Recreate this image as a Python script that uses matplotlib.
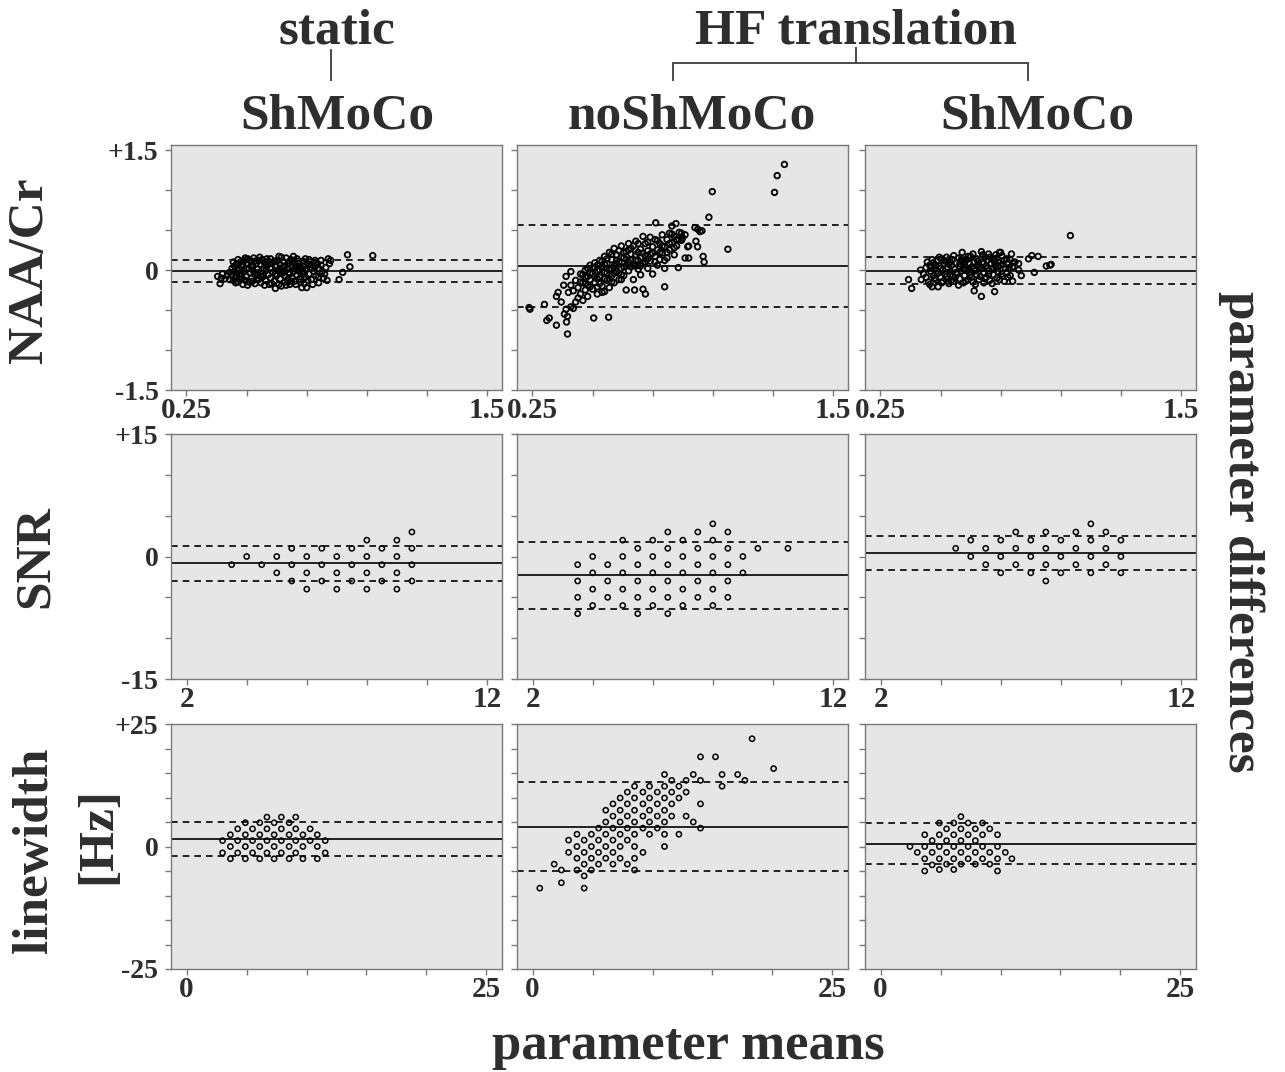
import numpy as np
import matplotlib
matplotlib.use("Agg")
import matplotlib.pyplot as plt
from matplotlib.lines import Line2D

# ---------------- data ----------------
# NAA/Cr  (x = mean, y = difference)
naa_static_pts = [
    (0.38, -0.08), (0.39, -0.17), (0.40, -0.05), (0.395, -0.10), (0.41, -0.11), (0.42, -0.07),
    (0.43, -0.03), (0.43, -0.12), (0.44, 0.02), (0.44, -0.06), (0.445, -0.13), (0.45, 0.05),
    (0.45, -0.02), (0.455, -0.09), (0.46, 0.08), (0.46, -0.04), (0.465, -0.15), (0.47, 0.01),
    (0.47, -0.11), (0.475, 0.10), (0.48, -0.06), (0.48, 0.04), (0.485, -0.18), (0.49, 0.12),
    (0.49, -0.01), (0.495, -0.13), (0.50, 0.07), (0.50, -0.08), (0.505, 0.14), (0.51, 0.02),
    (0.51, -0.15), (0.515, -0.04), (0.52, 0.10), (0.52, -0.10), (0.525, 0.05), (0.53, -0.02),
    (0.53, 0.15), (0.535, -0.17), (0.54, 0.08), (0.54, -0.07), (0.545, 0.01), (0.55, 0.12),
    (0.55, -0.12), (0.555, -0.03), (0.56, 0.06), (0.56, -0.16), (0.565, 0.13), (0.57, -0.08),
    (0.57, 0.02), (0.575, 0.09), (0.58, -0.13), (0.58, -0.01), (0.585, 0.05), (0.59, 0.11),
    (0.59, -0.06), (0.595, -0.18), (0.60, 0.03), (0.60, -0.10), (0.605, 0.08), (0.61, -0.03),
    (0.615, -0.14), (0.62, 0.05), (0.62, -0.23), (0.625, -0.07), (0.63, 0.12), (0.63, 0.00),
    (0.635, -0.18), (0.64, 0.07), (0.64, -0.11), (0.645, 0.16), (0.65, -0.04), (0.65, 0.03),
    (0.655, 0.10), (0.66, -0.15), (0.66, -0.08), (0.665, 0.15), (0.67, 0.01), (0.67, -0.12),
    (0.675, 0.08), (0.68, -0.18), (0.68, -0.05), (0.685, 0.13), (0.69, 0.04), (0.69, -0.10),
    (0.695, -0.01), (0.70, 0.10), (0.70, -0.14), (0.705, 0.06), (0.71, -0.07), (0.71, 0.14),
    (0.715, 0.00), (0.72, -0.11), (0.72, 0.08), (0.725, 0.03), (0.73, -0.04), (0.73, -0.22),
    (0.735, 0.11), (0.74, -0.17), (0.74, 0.05), (0.745, -0.09), (0.75, 0.01), (0.75, -0.22),
    (0.755, 0.07), (0.76, -0.05), (0.765, 0.03), (0.77, -0.12), (0.775, 0.06), (0.78, -0.02),
    (0.785, 0.04), (0.79, -0.07), (0.80, -0.16), (0.80, 0.02), (0.81, 0.06), (0.815, -0.02),
    (0.82, -0.10), (0.83, 0.03), (0.84, 0.14), (0.845, 0.08), (0.85, 0.12), (0.885, -0.12),
    (0.90, -0.03), (0.92, 0.19), (0.93, 0.04), (1.025, 0.18),
    (0.445, 0.10), (0.455, -0.16), (0.465, 0.13), (0.475, -0.08), (0.485, 0.07), (0.495, 0.15),
    (0.505, -0.19), (0.515, 0.12), (0.525, -0.14), (0.535, 0.11), (0.545, -0.10), (0.555, 0.16),
    (0.565, -0.05), (0.575, -0.19), (0.585, 0.14), (0.595, 0.08), (0.605, -0.17), (0.615, 0.11),
    (0.625, 0.04), (0.635, 0.17), (0.645, -0.20), (0.655, -0.01), (0.665, -0.19), (0.675, -0.03),
    (0.685, -0.14), (0.695, 0.17), (0.705, -0.18), (0.715, 0.11), (0.725, -0.15), (0.735, -0.02),
    (0.745, 0.14), (0.755, -0.13), (0.765, 0.10), (0.775, -0.18), (0.785, 0.12), (0.795, 0.08),
    (0.46, 0.00), (0.50, 0.01), (0.54, -0.04), (0.58, 0.07), (0.62, -0.05), (0.66, 0.05),
    (0.70, 0.02), (0.74, -0.05), (0.78, 0.09), (0.48, -0.11), (0.52, 0.06), (0.56, -0.08),
    (0.60, 0.14), (0.64, -0.02), (0.68, 0.11), (0.72, -0.02), (0.76, 0.13), (0.80, -0.09),
    (0.81, 0.12), (0.825, -0.05), (0.835, -0.13),
]
naa_hf_noshmoco_pts = [
    (0.236, -0.47), (0.24, -0.49), (0.30, -0.43), (0.31, -0.63), (0.32, -0.60), (0.35, -0.69),
    (0.35, -0.33), (0.357, -0.28), (0.37, -0.40), (0.383, -0.55), (0.39, -0.49), (0.392, -0.65),
    (0.396, -0.58), (0.396, -0.80), (0.38, -0.19), (0.39, -0.08), (0.41, -0.02), (0.41, -0.46),
    (0.42, -0.48), (0.43, -0.40), (0.44, -0.35), (0.40, -0.28), (0.41, -0.19), (0.42, -0.26),
    (0.43, -0.13), (0.44, -0.22), (0.45, -0.05), (0.45, -0.30), (0.46, -0.16), (0.46, -0.38),
    (0.47, -0.09), (0.47, -0.25), (0.48, 0.02), (0.48, -0.19), (0.48, -0.33), (0.49, -0.12),
    (0.49, 0.06), (0.50, -0.05), (0.50, -0.24), (0.505, -0.60), (0.51, 0.09), (0.51, -0.16),
    (0.52, -0.01), (0.52, -0.30), (0.53, 0.12), (0.53, -0.09), (0.54, 0.04), (0.54, -0.20),
    (0.55, 0.17), (0.55, -0.03), (0.55, -0.27), (0.56, 0.08), (0.56, -0.13), (0.567, -0.59),
    (0.57, 0.22), (0.57, 0.00), (0.57, -0.22), (0.58, 0.13), (0.58, -0.07), (0.59, 0.27),
    (0.59, 0.05), (0.59, -0.16), (0.60, 0.19), (0.60, -0.02), (0.61, 0.10), (0.61, -0.12),
    (0.62, 0.30), (0.62, 0.02), (0.63, 0.15), (0.63, -0.07), (0.64, 0.23), (0.64, 0.05),
    (0.64, -0.25), (0.65, 0.33), (0.65, -0.01), (0.66, 0.12), (0.66, 0.27), (0.67, 0.06),
    (0.67, -0.12), (0.675, -0.25), (0.68, 0.19), (0.68, 0.36), (0.69, 0.01), (0.69, 0.12),
    (0.70, 0.26), (0.70, -0.06), (0.71, 0.42), (0.71, 0.08), (0.71, -0.24), (0.72, 0.18),
    (0.72, -0.30), (0.72, 0.33), (0.73, 0.02), (0.73, 0.24), (0.74, 0.41), (0.74, 0.11),
    (0.75, 0.29), (0.75, -0.05), (0.76, 0.17), (0.76, 0.38), (0.763, 0.59), (0.77, 0.06),
    (0.77, 0.25), (0.78, 0.33), (0.78, 0.13), (0.79, 0.44), (0.79, 0.21), (0.80, 0.02),
    (0.80, -0.21), (0.80, 0.29), (0.81, 0.38), (0.81, 0.15), (0.82, 0.46), (0.82, 0.25),
    (0.83, 0.55), (0.83, 0.34), (0.84, 0.19), (0.84, 0.42), (0.847, 0.58), (0.85, 0.30),
    (0.857, 0.03), (0.86, 0.47), (0.87, 0.37), (0.875, 0.40), (0.885, 0.44), (0.885, 0.15),
    (0.896, 0.29), (0.90, 0.15), (0.90, 0.30), (0.926, 0.53), (0.93, 0.36), (0.937, 0.29),
    (0.938, 0.51), (0.947, 0.48), (0.96, 0.17), (0.964, 0.10), (0.955, 0.49), (0.984, 0.66),
    (0.998, 0.98), (1.063, 0.26), (1.257, 0.97), (1.268, 1.18), (1.298, 1.32),
    (0.47, 0.00), (0.49, -0.04), (0.51, 0.03), (0.52, -0.11), (0.53, 0.00), (0.55, 0.07),
    (0.56, -0.04), (0.58, 0.02), (0.60, 0.08), (0.61, -0.04), (0.62, 0.16), (0.63, 0.04),
    (0.65, 0.10), (0.66, 0.20), (0.68, 0.05), (0.69, 0.22), (0.70, 0.15), (0.73, 0.14),
    (0.74, 0.20), (0.76, 0.10), (0.78, 0.22), (0.80, 0.12), (0.82, 0.33), (0.84, 0.28),
    (0.86, 0.38),
    (0.45, -0.15), (0.46, -0.06), (0.47, -0.17), (0.48, -0.08), (0.49, -0.21), (0.50, 0.03),
    (0.51, -0.08), (0.52, 0.06), (0.53, -0.17), (0.54, 0.11), (0.55, -0.11), (0.56, 0.14),
    (0.57, -0.11), (0.58, 0.20), (0.59, -0.04), (0.60, 0.12), (0.61, 0.24), (0.62, -0.06),
    (0.63, 0.22), (0.64, 0.13), (0.65, 0.25), (0.66, 0.04), (0.67, 0.30), (0.68, 0.12),
    (0.69, 0.33), (0.70, 0.05), (0.71, 0.21), (0.72, 0.10), (0.73, 0.35), (0.75, 0.21),
    (0.77, 0.37), (0.79, 0.30), (0.81, 0.22), (0.83, 0.45), (0.85, 0.38), (0.87, 0.46),
    (0.52, -0.21), (0.54, -0.28), (0.58, -0.15), (0.62, -0.12),
]
naa_hf_shmoco_pts = [
    (0.367, -0.12), (0.38, -0.23), (0.417, 0.00), (0.42, -0.12), (0.43, -0.05), (0.44, 0.03),
    (0.44, -0.09), (0.45, -0.15), (0.455, 0.06), (0.46, -0.02), (0.465, -0.21), (0.47, 0.09),
    (0.47, -0.07), (0.475, 0.01), (0.48, -0.12), (0.485, 0.12), (0.49, -0.04), (0.49, -0.21),
    (0.495, 0.05), (0.50, -0.09), (0.505, 0.14), (0.51, 0.00), (0.51, -0.14), (0.515, 0.08),
    (0.52, -0.05), (0.525, 0.16), (0.53, 0.03), (0.53, -0.11), (0.535, -0.17), (0.54, 0.10),
    (0.54, -0.02), (0.545, 0.06), (0.55, -0.08), (0.55, 0.13), (0.555, -0.14), (0.56, 0.01),
    (0.565, 0.09), (0.57, -0.05), (0.575, 0.15), (0.58, -0.11), (0.58, 0.04), (0.585, -0.01),
    (0.59, 0.22), (0.59, 0.11), (0.595, -0.16), (0.60, 0.06), (0.60, -0.07), (0.605, 0.01),
    (0.61, 0.13), (0.615, -0.12), (0.62, 0.08), (0.62, -0.03), (0.625, 0.17), (0.63, -0.09),
    (0.63, 0.04), (0.635, -0.15), (0.64, 0.10), (0.64, -0.26), (0.645, -0.01), (0.65, 0.14),
    (0.65, -0.06), (0.655, 0.06), (0.66, -0.12), (0.665, 0.02), (0.67, 0.23), (0.67, -0.33),
    (0.675, 0.10), (0.68, -0.04), (0.68, -0.16), (0.685, 0.16), (0.69, 0.05), (0.69, -0.09),
    (0.695, 0.12), (0.70, -0.01), (0.70, 0.20), (0.705, -0.13), (0.71, 0.08), (0.715, 0.02),
    (0.72, -0.06), (0.72, 0.14), (0.725, -0.27), (0.73, 0.04), (0.73, 0.19), (0.735, -0.10),
    (0.74, 0.10), (0.74, -0.02), (0.745, 0.22), (0.75, 0.06), (0.75, 0.22), (0.755, -0.05),
    (0.76, -0.08), (0.765, 0.12), (0.77, 0.02), (0.775, -0.03), (0.78, 0.08), (0.79, 0.13),
    (0.79, -0.07), (0.80, -0.14), (0.80, 0.04), (0.81, 0.10), (0.825, 0.08), (0.825, 0.00),
    (0.836, -0.07), (0.866, 0.14), (0.88, 0.18), (0.89, -0.03), (0.906, 0.17), (0.94, 0.05),
    (0.955, 0.06), (0.96, 0.07), (1.04, 0.43),
    (0.445, 0.10), (0.455, -0.18), (0.465, 0.13), (0.475, -0.10), (0.485, -0.01), (0.495, 0.16),
    (0.505, -0.16), (0.515, 0.12), (0.525, -0.08), (0.535, 0.07), (0.545, -0.13), (0.555, 0.18),
    (0.565, -0.03), (0.575, -0.19), (0.585, 0.12), (0.595, 0.02), (0.605, -0.14), (0.615, 0.17),
    (0.625, -0.06), (0.635, 0.20), (0.645, -0.18), (0.655, 0.11), (0.665, -0.08), (0.675, 0.19),
    (0.685, -0.11), (0.695, 0.02), (0.705, 0.16), (0.715, -0.17), (0.725, 0.10), (0.735, 0.15),
    (0.745, -0.12), (0.755, 0.18), (0.765, -0.14), (0.775, 0.14), (0.785, 0.03), (0.795, 0.20),
    (0.46, 0.03), (0.50, 0.02), (0.54, -0.06), (0.58, 0.08), (0.62, 0.00), (0.66, 0.04),
    (0.70, -0.05), (0.74, 0.05), (0.78, -0.09), (0.48, 0.06), (0.52, 0.11), (0.56, -0.10),
    (0.60, 0.10), (0.64, 0.02), (0.68, 0.08), (0.72, 0.03), (0.76, 0.07), (0.80, 0.09),
]

# SNR
snr_static_x = [3.5, 4, 4.5, 5, 5, 5.5, 5.5, 5.5, 6, 6, 6, 6.5, 6.5, 6.5, 7, 7, 7,
                7.5, 7.5, 7.5, 8, 8, 8, 8, 8.5, 8.5, 8.5, 9, 9, 9, 9, 9.5, 9.5, 9.5, 9.5]
snr_static_y = [-1, 0, -1, 0, -2, 1, -1, -3, 0, -2, -4, 1, -1, -3, 0, -2, -4,
                1, -1, -3, 2, 0, -2, -4, 1, -1, -3, 2, 0, -2, -4, 3, 1, -1, -3]
snr_hf_noshmoco_x = [3.5, 3.5, 3.5, 3.5, 4, 4, 4, 4, 4.5, 4.5, 4.5, 5, 5, 5, 5, 5,
                     5.5, 5.5, 5.5, 5.5, 5.5, 6, 6, 6, 6, 6, 6.5, 6.5, 6.5, 6.5, 6.5, 6.5,
                     7, 7, 7, 7, 7, 7.5, 7.5, 7.5, 7.5, 7.5, 8, 8, 8, 8, 8, 8,
                     8.5, 8.5, 8.5, 8.5, 8.5, 9, 9, 9.5, 10.5]
snr_hf_noshmoco_y = [-1, -3, -5, -7, 0, -2, -4, -6, -1, -3, -5, 2, 0, -2, -4, -6,
                     1, -1, -3, -5, -7, 2, 0, -2, -4, -6, 3, 1, -1, -3, -5, -7,
                     2, 0, -2, -4, -6, 3, 1, -1, -3, -5, 4, 2, 0, -2, -4, -6,
                     3, 1, -1, -3, -5, 0, -2, 1, 1]
snr_hf_shmoco_x = [4.5, 5, 5, 5.5, 5.5, 6, 6, 6, 6.5, 6.5, 6.5, 7, 7, 7, 7.5, 7.5, 7.5, 7.5,
                   8, 8, 8, 8.5, 8.5, 8.5, 9, 9, 9, 9, 9.5, 9.5, 9.5, 10, 10, 10]
snr_hf_shmoco_y = [1, 2, 0, 1, -1, 2, 0, -2, 3, 1, -1, 2, 0, -2, 3, 1, -1, -3,
                   2, 0, -2, 3, 1, -1, 4, 2, 0, -2, 3, 1, -1, 2, 0, -2]

# linewidth [Hz]
lw_static_x = [6.7, 7.9, 9.1,
               4.9, 6.1, 7.3, 8.55,
               4.26, 5.5, 6.7, 7.9, 9.1, 10.3,
               3.65, 4.9, 6.1, 7.3, 8.55, 9.7, 10.9,
               3.0, 4.26, 5.5, 6.7, 7.9, 9.1, 10.3, 11.56,
               3.65, 4.9, 6.1, 7.3, 8.55, 9.7, 10.9,
               3.0, 4.26, 5.5, 6.7, 7.9, 9.1, 11.56,
               3.65, 4.9, 6.1, 7.3, 8.55, 9.7, 10.9]
lw_static_y = [6.0] * 3 + [4.85] * 4 + [3.6] * 6 + [2.4] * 7 + [1.2] * 8 + [0.0] * 7 + [-1.3] * 7 + [-2.5] * 7
lw_hf_noshmoco_x = [0.6, 1.8, 2.4, 2.4, 3.0, 3.0, 3.7, 3.7, 3.7, 3.7,
                    4.3, 4.3, 4.3, 4.3, 4.3, 4.9, 4.9, 4.9, 4.9, 5.5, 5.5, 5.5, 5.5,
                    6.1, 6.1, 6.1, 6.1, 6.1, 6.7, 6.7, 6.7, 6.7, 6.7, 6.7,
                    7.3, 7.3, 7.3, 7.3, 7.3, 7.3, 7.9, 7.9, 7.9, 7.9, 7.9, 7.9,
                    8.5, 8.5, 8.5, 8.5, 8.5, 8.5, 8.5, 8.5, 9.2, 9.2, 9.2, 9.2, 9.2,
                    9.75, 9.75, 9.75, 9.75, 9.75, 10.4, 10.4, 10.4, 10.4,
                    11.0, 11.0, 11.0, 11.0, 11.0, 11.0, 11.0, 11.6, 11.6, 11.6, 11.6,
                    12.2, 12.2, 12.2, 12.8, 12.8, 12.8, 13.4, 13.4,
                    14.0, 14.0, 14.0, 14.0, 15.25, 15.8, 15.8, 17.1, 17.7, 18.3, 20.1]
lw_hf_noshmoco_y = [-8.5, -3.6, -4.8, -7.4, 1.3, -1.2, 2.5, 0.0, -2.4, -4.8,
                    1.3, -1.2, -3.6, -6.0, -8.5, 2.5, 0.0, -2.4, -4.8, 3.75, 1.3, -1.2, -3.6,
                    7.4, 5.0, 2.5, 0.0, -2.4, 8.7, 6.2, 3.75, 1.3, -1.2, -3.6,
                    9.9, 7.4, 5.0, 2.5, 0.0, -2.4, 11.1, 8.7, 6.2, 3.75, 1.3, -3.6,
                    12.3, 9.9, 7.4, 5.0, 2.5, 0.0, -2.4, -4.8, 11.1, 8.7, 6.2, 3.75, -1.2,
                    12.3, 9.9, 7.4, 5.0, 2.5, 11.1, 8.7, 6.2, 3.75,
                    14.7, 12.3, 9.9, 7.4, 5.0, 2.5, 0.0, 13.5, 11.1, 8.7, 6.2,
                    12.3, 9.9, 2.5, 13.5, 11.1, 6.2, 14.7, 5.0,
                    18.3, 13.5, 8.7, 3.75, 18.3, 14.7, 12.3, 14.7, 13.5, 22.0, 15.9]
lw_hf_shmoco_x = [2.45, 3.06, 3.68, 3.68, 3.68, 3.68, 4.3, 4.3, 4.3,
                  4.9, 4.9, 4.9, 4.9, 4.9, 5.5, 5.5, 5.5, 5.5,
                  6.1, 6.1, 6.1, 6.1, 6.1, 6.7, 6.7, 6.7, 6.7, 6.7,
                  7.3, 7.3, 7.3, 7.3, 7.9, 7.9, 7.9, 7.9, 8.5, 8.5, 8.5, 8.5,
                  9.1, 9.1, 9.1, 9.75, 9.75, 9.75, 9.75, 10.4, 10.95]
lw_hf_shmoco_y = [0.0, -1.2, 2.4, 0.0, -2.5, -5.0, 1.2, -1.2, -3.75,
                  4.8, 2.4, 0.0, -2.5, -4.7, 3.6, 1.2, -1.2, -3.6,
                  4.8, 2.4, 0.0, -2.5, -4.7, 6.1, 3.6, 1.2, -1.2, -3.6,
                  4.8, 2.4, 0.0, -2.5, 3.6, 1.2, -1.2, -3.6, 4.8, 2.4, 0.0, -2.5,
                  3.6, -1.2, -3.6, 2.4, 0.0, -2.5, -5.0, -1.2, -2.5]

# mean difference and limits of agreement (mean, upper, lower)
naa_stats = [(-0.012, 0.13, -0.15), (0.046, 0.56, -0.46), (-0.008, 0.16, -0.18)]
snr_stats = [(-0.8, 1.3, -3.0), (-2.3, 1.75, -6.4), (0.4, 2.5, -1.7)]
lw_stats = [(1.5, 5.0, -1.9), (4.0, 13.2, -5.1), (0.5, 4.8, -3.5)]

col_names = ["ShMoCo", "noShMoCo", "ShMoCo"]

naa_xticks = [0.25, 0.5, 0.75, 1.0, 1.25, 1.5]
snr_xticks = [2, 4, 6, 8, 10, 12]
lw_xticks = [0, 5, 10, 15, 20, 25]
naa_yticks = [-1.5, -1.0, -0.5, 0, 0.5, 1.0, 1.5]
snr_yticks = [-15, -10, -5, 0, 5, 10, 15]
lw_yticks = [-25, -20, -15, -10, -5, 0, 5, 10, 15, 20, 25]

# ---------------- figure ----------------
W, H = 1285, 1072
fig = plt.figure(figsize=(W / 100, H / 100), dpi=100)
FONT = "Liberation Serif"
TXT = "#2e2e2e"

col_left = [171, 517, 865]
col_w = 331
row_top = [145, 434, 724]
row_h = 245


def add_ax(r, c):
    l, t = col_left[c], row_top[r]
    return fig.add_axes([l / W, 1 - (t + row_h) / H, col_w / W, row_h / H])


def xy(pts):
    a = np.array(pts)
    return a[:, 0], a[:, 1]


rows = [
    dict(data=[xy(naa_static_pts), xy(naa_hf_noshmoco_pts), xy(naa_hf_shmoco_pts)],
         stats=naa_stats, xticks=naa_xticks, xlabels=["0.25", "", "", "", "", "1.5"],
         yticks=naa_yticks, ylabels=["-1.5", "", "", "0", "", "", "+1.5"],
         xlim=(0.186, 1.5625), ylim=(-1.5, 1.5625), ms=16, mlw=1.3),
    dict(data=[(snr_static_x, snr_static_y), (snr_hf_noshmoco_x, snr_hf_noshmoco_y),
               (snr_hf_shmoco_x, snr_hf_shmoco_y)],
         stats=snr_stats, xticks=snr_xticks, xlabels=["2", "", "", "", "", "12"],
         yticks=snr_yticks, ylabels=["-15", "", "", "0", "", "", "+15"],
         xlim=(1.48, 12.5), ylim=(-15, 15), ms=14, mlw=1.1),
    dict(data=[(lw_static_x, lw_static_y), (lw_hf_noshmoco_x, lw_hf_noshmoco_y),
               (lw_hf_shmoco_x, lw_hf_shmoco_y)],
         stats=lw_stats, xticks=lw_xticks, xlabels=["0", "", "", "", "", "25"],
         yticks=lw_yticks, ylabels=["-25", "", "", "", "", "0", "", "", "", "", "+25"],
         xlim=(-1.3, 26.3), ylim=(-25, 25), ms=14, mlw=1.1),
]

for r, row in enumerate(rows):
    for c in range(3):
        ax = add_ax(r, c)
        ax.set_facecolor("#e6e6e6")
        for s in ax.spines.values():
            s.set_color("#7a7a7a")
            s.set_linewidth(1.0)
        x, y = row["data"][c]
        mean, up, lo = row["stats"][c]
        ax.axhline(mean, color="black", lw=1.2, zorder=2)
        ax.axhline(up, color="black", lw=1.2, ls=(0, (4, 3)), zorder=2)
        ax.axhline(lo, color="black", lw=1.2, ls=(0, (4, 3)), zorder=2)
        ax.scatter(x, y, s=row["ms"], facecolors="none", edgecolors="black",
                   linewidths=row["mlw"], zorder=3)
        ax.set_xlim(*row["xlim"])
        ax.set_ylim(*row["ylim"])
        ax.set_xticks(row["xticks"])
        ax.set_xticklabels(row["xlabels"], fontfamily=FONT, fontweight="bold", fontsize=21, color=TXT)
        ax.set_yticks(row["yticks"])
        if c == 0:
            ax.set_yticklabels(row["ylabels"], fontfamily=FONT, fontweight="bold", fontsize=20, color=TXT)
        else:
            ax.set_yticklabels([])
        ax.tick_params(axis="both", direction="out", length=4, width=1, color="#7a7a7a")
        ax.tick_params(axis="x", pad=1)
        ax.tick_params(axis="y", pad=5)


def ftext(x, y, s, size=37, rot=0):
    fig.text(x / W, 1 - y / H, s, fontfamily=FONT, fontweight="bold", fontsize=size,
             color=TXT, rotation=rot, ha="center", va="center")


# column headers
ftext(337, 31, "static")
ftext(856, 31, "HF translation")
for cx, name in zip([337, 692, 1037], col_names):
    ftext(cx, 117, name)


# brackets
def fline(xs, ys):
    fig.add_artist(Line2D([v / W for v in xs], [1 - v / H for v in ys],
                          color="#4a4a4a", lw=1.4, transform=fig.transFigure))


fline([331, 331], [50, 80])
fline([856, 856], [48, 63])
fline([673, 1028], [63, 63])
fline([673, 673], [63, 80])
fline([1028, 1028], [63, 80])

# row labels
ftext(30, 270, "NAA/Cr", rot=90)
ftext(36, 557, "SNR", rot=90)
ftext(35, 850, "linewidth", rot=90)
ftext(98, 835, "[Hz]", rot=90)

# axis labels
ftext(1241, 532, "parameter differences", rot=-90)
ftext(688, 1046, "parameter means", size=38)

fig.savefig("out.png", dpi=100, facecolor="white")
